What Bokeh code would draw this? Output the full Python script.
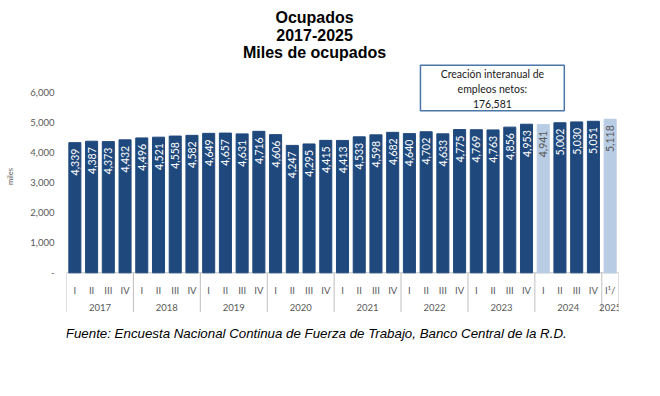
import math
from bokeh.plotting import figure
from bokeh.models import ColumnDataSource, FixedTicker, Range1d
from bokeh.core.properties import value
from bokeh.embed import file_html
from bokeh.resources import INLINE

# ---------------- data ----------------
years = ["2017", "2018", "2019", "2020", "2021", "2022", "2023", "2024", "2025"]
quarters_in_year = [4, 4, 4, 4, 4, 4, 4, 4, 1]
quarter_labels = (["I", "II", "III", "IV"] * 8) + ["I\u00b9/"]
ocupados = [4339, 4387, 4373, 4432,
            4496, 4521, 4558, 4582,
            4649, 4657, 4631, 4716,
            4606, 4247, 4295, 4415,
            4413, 4533, 4598, 4682,
            4640, 4702, 4633, 4775,
            4769, 4763, 4856, 4953,
            4941, 5002, 5030, 5051,
            5118]
highlighted = [("2024", "I"), ("2025", "I\u00b9/")]
y_ticks = [0, 1000, 2000, 3000, 4000, 5000, 6000]
y_tick_labels = ["-", "1,000", "2,000", "3,000", "4,000", "5,000", "6,000"]
title_lines = ["Ocupados", "2017-2025", "Miles de ocupados"]
box_text = "Creación interanual de\nempleos netos:\n176,581"
source_text = "Fuente: Encuesta Nacional Continua de Fuerza de Trabajo, Banco Central de la R.D."

# ---------------- derived ----------------
DARK = "#1f497d"
LIGHT = "#b8cce4"
bar_year = []
for y, n in zip(years, quarters_in_year):
    bar_year += [y] * n
xs = list(range(len(ocupados)))
is_hl = [(yr, q) in highlighted for yr, q in zip(bar_year, quarter_labels)]
fill = [LIGHT if h else DARK for h in is_hl]
lab_color = ["#595959" if h else "white" for h in is_hl]
labels = [f"{v:,}" for v in ocupados]

src = ColumnDataSource(dict(x=xs, top=ocupados, fill=fill, lab=labels,
                            lab_y=[v - 200 for v in ocupados], lab_color=lab_color,
                            q=quarter_labels))

p = figure(width=650, height=390, output_backend="svg", toolbar_location=None,
           x_range=Range1d(-0.5, len(ocupados) - 0.5),
           y_range=Range1d(-2656, 9077),
           min_border_left=66, min_border_right=32, min_border_top=0,
           min_border_bottom=38)
p.outline_line_color = None
p.xgrid.visible = False
p.ygrid.visible = False
p.xaxis.visible = False

# y axis
ya = p.yaxis[0]
ya.ticker = FixedTicker(ticks=y_ticks)
ya.major_label_overrides = {t: l for t, l in zip(y_ticks, y_tick_labels)}
ya.axis_line_color = None
ya.major_tick_line_color = None
ya.minor_tick_line_color = None
ya.major_tick_out = 0
ya.major_label_standoff = 12
ya.major_label_text_font = "Lato"
ya.major_label_text_font_size = "9.5px"
ya.major_label_text_color = "#595959"
ya.axis_label = "miles"
ya.axis_label_text_font = "Lato"
ya.axis_label_text_font_size = "7.5px"
ya.axis_label_text_font_style = "normal"
ya.axis_label_text_color = "#595959"
ya.axis_label_standoff = 12

# baseline and group separators
p.segment(x0=[-0.5], x1=[len(ocupados) - 0.5], y0=[0], y1=[0],
          line_color="#bfbfbf", line_width=1)
bounds = [-0.5]
pos = -0.5
for n in quarters_in_year:
    pos += n
    bounds.append(pos)
p.segment(x0=bounds, x1=bounds, y0=[0] * len(bounds), y1=[-1310] * len(bounds),
          line_color="#bfbfbf", line_width=1)

# bars
p.vbar(x="x", top="top", bottom=0, width=0.72, source=src,
       fill_color="fill", line_color="fill")

# value labels inside bars
p.text(x="x", y="lab_y", text="lab", source=src, angle=math.pi / 2,
       text_align="right", text_baseline="middle", text_color="lab_color",
       text_font=value("Lato"), text_font_size="10.5px")

# quarter labels
p.text(x="x", y=-590, text="q", source=src, text_align="center",
       text_baseline="middle", text_color="#595959",
       text_font=value("Lato"), text_font_size="9.5px")

# year labels
year_x = []
start = 0
for n in quarters_in_year:
    year_x.append(start + (n - 1) / 2)
    start += n
p.text(x=year_x, y=[-1150] * len(years), text=years, text_align="center",
       text_baseline="middle", text_color="#595959",
       text_font=value("Lato"), text_font_size="9.5px")

# title
p.text(x=[14.33] * 3, y=[8503, 7927, 7350], text=title_lines,
       text_align="center", text_baseline="middle", text_color="black",
       text_font=value("Liberation Sans"), text_font_size="16px",
       text_font_style="bold")

# annotation box
p.quad(left=[20.66], right=[29.26], top=[6920], bottom=[5400],
       fill_color="white", line_color="#4a76a8", line_width=1.5)
p.text(x=[24.96], y=[6140], text=[box_text], text_align="center",
       text_baseline="middle", text_color="#1a1a1a", text_line_height=1.25,
       text_font=value("Lato"), text_font_size="10.5px")

# source
p.text(x=[-0.54], y=[-2023], text=[source_text], text_align="left",
       text_baseline="middle", text_color="black",
       text_font=value("Liberation Sans"), text_font_size="13.3px",
       text_font_style="italic")

open("out.html", "w").write(file_html(p, INLINE))
